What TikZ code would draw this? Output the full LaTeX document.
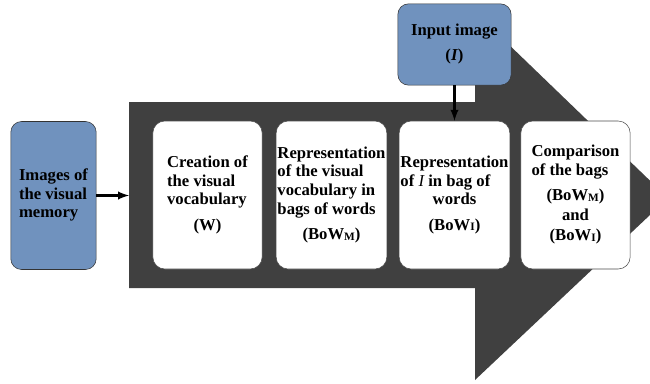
\documentclass[tikz,border=0pt]{standalone}
\usepackage{fontspec}
\setmainfont{Liberation Serif}
\usepackage{tikz}
\usetikzlibrary{arrows}
\usetikzlibrary{positioning}
\definecolor{memblue}{RGB}{112,146,190}
\definecolor{arrowgrey}{RGB}{64,64,64}
\tikzstyle{stepbox}=[rectangle,rounded corners=9pt,fill=white,draw=black!70,minimum width=82pt,minimum height=111pt,inner sep=1pt,font=\bfseries\fontsize{12.5}{14}\selectfont]
\tikzstyle{bluebox}=[rectangle,rounded corners=8pt,fill=memblue,draw=black!80,inner sep=1pt,font=\bfseries\fontsize{12.5}{14}\selectfont]
\tikzstyle{edge} = [draw,line width=1.8pt,-latex]
\newcommand{\ctr}[1]{\multicolumn{1}{@{}c@{}}{#1}}
\newcommand{\bowsub}[1]{\raisebox{-0.6pt}{\fontsize{8.5}{9}\selectfont #1}}

\begin{document}
\begin{tikzpicture}[x=0.75pt,y=-0.75pt]
    \useasboundingbox (0,0) rectangle (650,383);
    % the big grey arrow behind the steps
    \fill[arrowgrey] (129,102) -- (475,102) -- (475,12) -- (668,198) -- (475,380) -- (475,288) -- (129,288) -- cycle;
    \coordinate (shaft) at (129,195.5);

    % the four steps
    \foreach \xc/\name/\txt in {
        {207.5/create/{\begin{tabular}{@{}l@{}}Creation of\\the visual\\vocabulary\\[5pt]\ctr{(W)}\end{tabular}}},
        {331.5/reprmem/{\begin{tabular}{@{}l@{}}Representation\\of the visual\\vocabulary in\\bags of words\\[5pt]\ctr{(BoW\bowsub{M})}\end{tabular}}},
        {454.5/reprin/{\begin{tabular}{@{}l@{}}Representation\\of {\mdseries\itshape I} in bag of\\\ctr{words}\\[5pt]\ctr{(BoW\bowsub{I})}\end{tabular}}},
        {575.5/compare/{\begin{tabular}{@{}l@{}}Comparison\\of the bags\\[5pt]\ctr{(BoW\bowsub{M})}\\[1pt]\ctr{and}\\[1pt]\ctr{(BoW\bowsub{I})}\end{tabular}}}}
        \node[stepbox] (\name) at (\xc,195) {\txt};

    % the two inputs
    \node[bluebox, minimum width=64pt, minimum height=111pt] (memory) at (53.5,195.5)
        {\begin{tabular}{@{}l@{}}Images of\\the visual\\memory\end{tabular}};
    \node[bluebox, minimum width=85pt, minimum height=61pt] (input) at (454.5,44.5)
        {\begin{tabular}{@{}c@{}}Input image\\[5pt](\textit{I})\end{tabular}};

    \path[edge] (memory) -- (shaft);
    \path[edge] (input) -- (reprin);
\end{tikzpicture}
\end{document}
